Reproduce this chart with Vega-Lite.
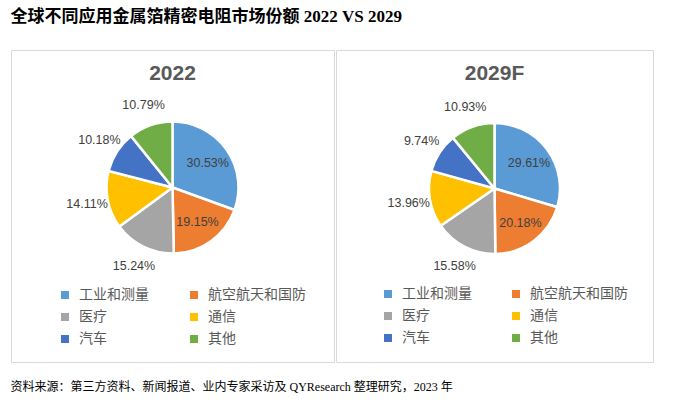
{
  "$schema": "https://vega.github.io/schema/vega-lite/v6.json",
  "background": "white",
  "padding": {"left": 10, "top": 7, "right": 0, "bottom": 0},
  "title": {"text": "全球不同应用金属箔精密电阻市场份额 2022 VS 2029", "anchor": "start", "font": "Liberation Serif, Noto Sans CJK SC", "fontSize": 17, "fontWeight": "bold", "color": "#000000", "offset": 24},
  "data": {"values": [
    {"year": "2022", "idx": 1, "app": "工业和测量", "share": 0.3053},
    {"year": "2022", "idx": 2, "app": "航空航天和国防", "share": 0.1915},
    {"year": "2022", "idx": 3, "app": "医疗", "share": 0.1524},
    {"year": "2022", "idx": 4, "app": "通信", "share": 0.1411},
    {"year": "2022", "idx": 5, "app": "汽车", "share": 0.1018},
    {"year": "2022", "idx": 6, "app": "其他", "share": 0.1079},
    {"year": "2029F", "idx": 1, "app": "工业和测量", "share": 0.2961},
    {"year": "2029F", "idx": 2, "app": "航空航天和国防", "share": 0.2018},
    {"year": "2029F", "idx": 3, "app": "医疗", "share": 0.1558},
    {"year": "2029F", "idx": 4, "app": "通信", "share": 0.1396},
    {"year": "2029F", "idx": 5, "app": "汽车", "share": 0.0974},
    {"year": "2029F", "idx": 6, "app": "其他", "share": 0.1093}
  ]},
  "vconcat": [
    {
      "title": {"text": "资料来源：第三方资料、新闻报道、业内专家采访及 QYResearch 整理研究，2023 年", "orient": "bottom", "anchor": "start", "font": "Liberation Serif, Noto Sans CJK SC", "fontSize": 12, "fontWeight": "normal", "color": "#000000", "offset": 19},
      "spacing": 0,
      "resolve": {"scale": {"color": "independent"}, "legend": {"color": "independent"}},
      "hconcat": [
        {
          "width": 323, "height": 312,
          "view": {"stroke": "#d9d9d9", "strokeWidth": 1},
          "title": {"text": "2022", "anchor": "middle", "font": "Liberation Sans", "fontSize": 21, "fontWeight": "bold", "color": "#595959", "offset": -34},
          "transform": [{"filter": "datum.year == '2022'"}],
          "encoding": {
            "theta": {"field": "share", "type": "quantitative", "stack": true},
            "order": {"field": "idx", "type": "ordinal"}
          },
          "layer": [
            {
              "mark": {"type": "arc", "outerRadius": 66, "stroke": "white", "strokeWidth": 2.5, "yOffset": -18.5},
              "encoding": {
                "color": {"field": "app", "type": "nominal",
                  "scale": {"domain": ["工业和测量", "医疗", "汽车", "航空航天和国防", "通信", "其他"], "range": ["#5B9BD5", "#A5A5A5", "#4472C4", "#ED7D31", "#FFC000", "#70AD47"]},
                  "legend": {"orient": "none", "legendX": 47, "legendY": 238, "columns": 2, "title": null, "symbolType": "square", "symbolSize": 64, "symbolStrokeWidth": 0, "labelFontSize": 14, "labelFont": "Noto Sans CJK SC", "labelColor": "#595959", "columnPadding": 38, "rowPadding": 8, "labelOffset": 7, "padding": 0}}
              }
            },
            {
              "mark": {"type": "text", "radius": 43, "yOffset": -18.5, "font": "Liberation Sans", "fontSize": 12.5, "color": "#404040"},
              "encoding": {
                "text": {"field": "share", "type": "quantitative", "format": ".2%"},
                "opacity": {"condition": {"test": "datum.share > 0.18", "value": 1}, "value": 0}
              }
            },
            {
              "mark": {"type": "text", "radius": 87, "yOffset": -18.5, "font": "Liberation Sans", "fontSize": 12.5, "color": "#404040"},
              "encoding": {
                "text": {"field": "share", "type": "quantitative", "format": ".2%"},
                "opacity": {"condition": {"test": "datum.share > 0.18", "value": 0}, "value": 1}
              }
            }
          ]
        },
        {
          "width": 317, "height": 312,
          "view": {"stroke": "#d9d9d9", "strokeWidth": 1},
          "title": {"text": "2029F", "anchor": "middle", "font": "Liberation Sans", "fontSize": 21, "fontWeight": "bold", "color": "#595959", "offset": -34},
          "transform": [{"filter": "datum.year == '2029F'"}],
          "encoding": {
            "theta": {"field": "share", "type": "quantitative", "stack": true},
            "order": {"field": "idx", "type": "ordinal"}
          },
          "layer": [
            {
              "mark": {"type": "arc", "outerRadius": 65.5, "stroke": "white", "strokeWidth": 2.5, "yOffset": -17.5},
              "encoding": {
                "color": {"field": "app", "type": "nominal",
                  "scale": {"domain": ["工业和测量", "医疗", "汽车", "航空航天和国防", "通信", "其他"], "range": ["#5B9BD5", "#A5A5A5", "#4472C4", "#ED7D31", "#FFC000", "#70AD47"]},
                  "legend": {"orient": "none", "legendX": 45, "legendY": 237, "columns": 2, "title": null, "symbolType": "square", "symbolSize": 64, "symbolStrokeWidth": 0, "labelFontSize": 14, "labelFont": "Noto Sans CJK SC", "labelColor": "#595959", "columnPadding": 37, "rowPadding": 8, "labelOffset": 7, "padding": 0}}
              }
            },
            {
              "mark": {"type": "text", "radius": 43, "yOffset": -17.5, "font": "Liberation Sans", "fontSize": 12.5, "color": "#404040"},
              "encoding": {
                "text": {"field": "share", "type": "quantitative", "format": ".2%"},
                "opacity": {"condition": {"test": "datum.share > 0.18", "value": 1}, "value": 0}
              }
            },
            {
              "mark": {"type": "text", "radius": 87, "yOffset": -17.5, "font": "Liberation Sans", "fontSize": 12.5, "color": "#404040"},
              "encoding": {
                "text": {"field": "share", "type": "quantitative", "format": ".2%"},
                "opacity": {"condition": {"test": "datum.share > 0.18", "value": 0}, "value": 1}
              }
            }
          ]
        }
      ]
    }
  ]
}
